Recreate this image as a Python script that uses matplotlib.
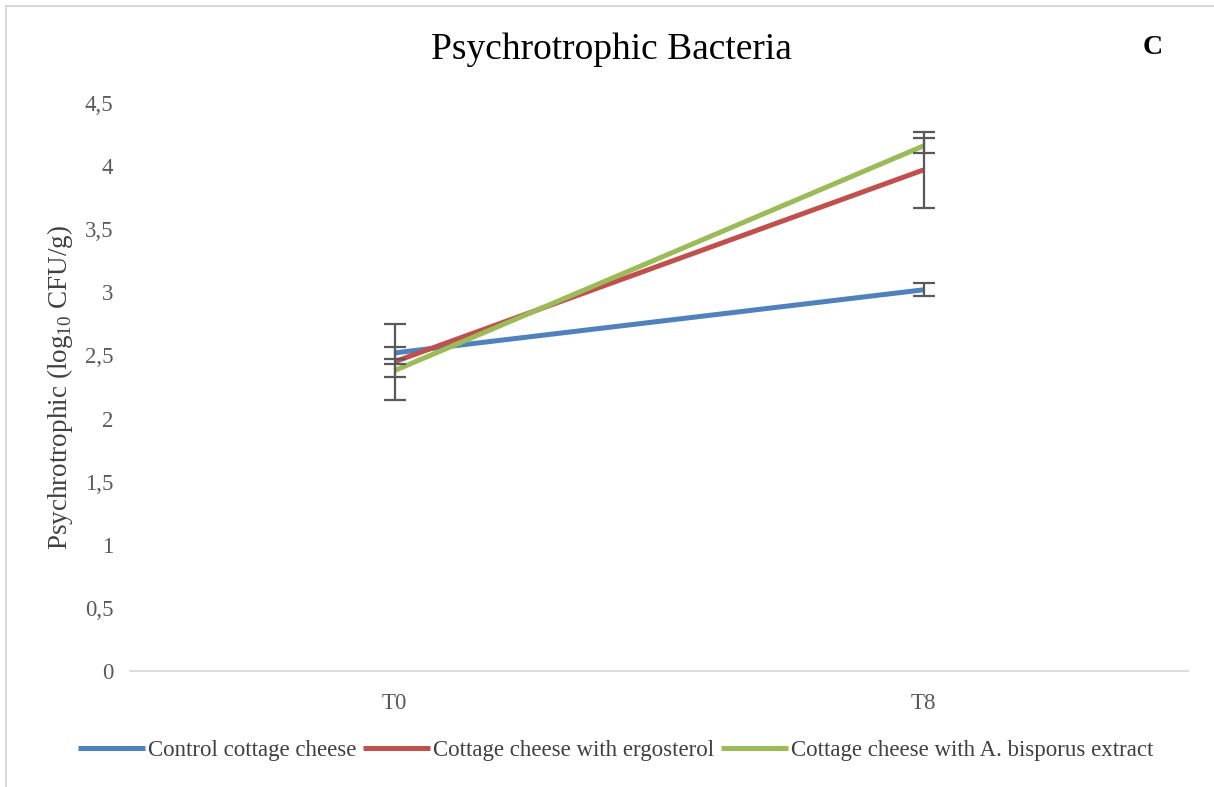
import numpy as np
import matplotlib.pyplot as plt
from matplotlib.lines import Line2D

plt.rcParams['font.family'] = ['Liberation Serif', 'DejaVu Serif']
plt.rcParams['mathtext.fontset'] = 'custom'
plt.rcParams['mathtext.rm'] = 'Liberation Serif'

days = ['T0', 'T8']
control = [2.52, 3.02]
control_sd = [0.05, 0.05]
ergosterol = [2.45, 3.97]
ergosterol_sd = [0.30, 0.30]
bisporus = [2.38, 4.16]
bisporus_sd = [0.05, 0.06]

series = [
    ('Control cottage cheese', control, control_sd, '#4F81BD'),
    ('Cottage cheese with ergosterol', ergosterol, ergosterol_sd, '#C0504D'),
    ('Cottage cheese with A. bisporus extract', bisporus, bisporus_sd, '#9BBB59'),
]

W, H = 1214, 787
fig = plt.figure(figsize=(W / 100, H / 100), dpi=100)
ax = fig.add_axes([130 / W, 1 - 671 / H, 1058 / W, 568 / H])

x = np.arange(len(days)) + 0.5
for label, vals, sd, col in series:
    ax.plot(x, vals, color=col, lw=3.6, label=label, solid_capstyle='butt')
for label, vals, sd, col in series:
    ax.errorbar(x, vals, yerr=sd, fmt='none', ecolor='#595959',
                elinewidth=1.6, capsize=8, capthick=1.6)

ax.set_xlim(0, len(days))
ax.set_ylim(0, 4.5)
ax.set_xticks(x)
ax.set_xticklabels(days)
yt = np.arange(0, 4.51, 0.5)
ax.set_yticks(yt)
ax.set_yticklabels([f'{v:g}'.replace('.', ',') for v in yt])
ax.tick_params(length=0, labelsize=16.5, colors='#595959', pad=12)
ax.tick_params(axis='x', pad=16)
for s in ['top', 'right', 'left']:
    ax.spines[s].set_visible(False)
ax.spines['bottom'].set_color('#D9D9D9')
ax.spines['bottom'].set_linewidth(1.3)

ax.set_ylabel('Psychrotrophic (log$_{10}$ CFU/g)', fontsize=19.5, color='#404040', labelpad=7)
fig.text(611 / W, 1 - 50 / H, 'Psychrotrophic Bacteria', fontsize=27,
         ha='center', va='center', color='black')
fig.text(1153 / W, 1 - 48 / H, 'C', fontsize=20, fontweight='bold',
         ha='center', va='center')

fig.legend(loc='center', bbox_to_anchor=(616 / W, 1 - 750 / H), ncol=3,
           frameon=False, fontsize=16.5, handlelength=2.9, handletextpad=0.15,
           columnspacing=0.3, labelcolor='#404040')

# outer chart border, left and top edges
fig.add_artist(Line2D([6 / W, 6 / W], [0, 1 - 6 / H], transform=fig.transFigure,
                      color='#D9D9D9', lw=1.5))
fig.add_artist(Line2D([6 / W, 1], [1 - 6 / H, 1 - 6 / H], transform=fig.transFigure,
                      color='#D9D9D9', lw=1.5))

fig.savefig('out.png', dpi=100)
